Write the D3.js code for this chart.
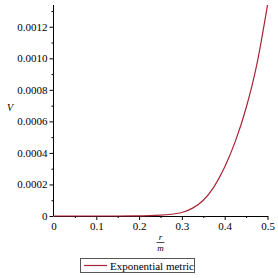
<!DOCTYPE html>
<html>
<head>
<meta charset="utf-8">
<script src="https://cdn.jsdelivr.net/npm/d3@7"></script>
<style>
  body { margin: 0; background: #fff; }
  svg { display: block; font-family: "Liberation Serif", "Times New Roman", serif; }
</style>
</head>
<body>
<div id="plot"></div>
<script>
const FRAME_WIDTH = 278;
const FRAME_HEIGHT = 278;
const MARGINS = {left: 53.5, right: 10.5, top: 5, bottom: 62};

// r/m values and V
const rm = [0, 0.05, 0.1, 0.15, 0.2, 0.225, 0.25, 0.275, 0.3, 0.325, 0.35, 0.375, 0.4, 0.425, 0.45, 0.475, 0.5];
const V = [0, 0, 0, 0, 0.000001, 0.000002, 0.000005, 0.000011, 0.000022, 0.00005, 0.0001, 0.000185, 0.00031, 0.000475, 0.000685, 0.00096, 0.001338];

const xTicks = [0, 0.1, 0.2, 0.3, 0.4, 0.5];
const yTicks = [0, 0.0002, 0.0004, 0.0006, 0.0008, 0.0010, 0.0012];
const seriesName = "Exponential metric";

const LINE_COLOR = "#a82634";

const VIS_WIDTH = FRAME_WIDTH - MARGINS.left - MARGINS.right;
const VIS_HEIGHT = FRAME_HEIGHT - MARGINS.top - MARGINS.bottom;

const X_SCALE = d3.scaleLinear().domain([0, 0.5]).range([MARGINS.left, MARGINS.left + VIS_WIDTH]);
const Y_SCALE = d3.scaleLinear().domain([0, 0.001338]).range([MARGINS.top + VIS_HEIGHT, MARGINS.top]);

const FRAME = d3.select("#plot")
  .append("svg")
    .attr("width", FRAME_WIDTH)
    .attr("height", FRAME_HEIGHT);

// minor ticks
const yMinor = d3.range(0.0001, 0.00135, 0.0002);
const xMinor = d3.range(0.05, 0.5, 0.1);

FRAME.append("g")
  .attr("transform", "translate(" + MARGINS.left + ",0)")
  .call(d3.axisLeft(Y_SCALE).tickValues(yMinor).tickSize(2).tickFormat(""))
  .call(g => g.select(".domain").remove());

FRAME.append("g")
  .attr("transform", "translate(0," + (MARGINS.top + VIS_HEIGHT) + ")")
  .call(d3.axisBottom(X_SCALE).tickValues(xMinor).tickSize(2).tickFormat(""))
  .call(g => g.select(".domain").remove());

// y axis
const yAxis = FRAME.append("g")
  .attr("transform", "translate(" + MARGINS.left + ",0)")
  .call(d3.axisLeft(Y_SCALE).tickValues(yTicks).tickSize(4).tickSizeOuter(0)
    .tickFormat(d => d === 0 ? "0" : d3.format(".4f")(d)));
yAxis.select(".domain").attr("d", "M0," + Y_SCALE(0) + "V" + MARGINS.top);
yAxis.selectAll("text")
  .attr("font-family", "Liberation Serif").attr("font-size", 11).attr("fill", "#000").attr("x", -6);

// x axis
const xAxis = FRAME.append("g")
  .attr("transform", "translate(0," + (MARGINS.top + VIS_HEIGHT) + ")")
  .call(d3.axisBottom(X_SCALE).tickValues(xTicks).tickSize(4).tickSizeOuter(0)
    .tickFormat(d => d === 0 ? "0" : d3.format(".1f")(d)));
xAxis.selectAll(".tick line").filter(d => d === 0).remove();
xAxis.selectAll("text")
  .attr("font-family", "Liberation Serif").attr("font-size", 11).attr("fill", "#000").attr("y", 6);

// axis labels
FRAME.append("text")
  .attr("x", 10).attr("y", 111)
  .attr("text-anchor", "middle")
  .attr("font-style", "italic").attr("font-size", 10)
  .text("V");

const cx = MARGINS.left + VIS_WIDTH / 2;
FRAME.append("text")
  .attr("x", cx).attr("y", 240)
  .attr("text-anchor", "middle")
  .attr("font-style", "italic").attr("font-size", 9)
  .text("r");
FRAME.append("line")
  .attr("x1", cx - 4).attr("x2", cx + 4)
  .attr("y1", 242.5).attr("y2", 242.5)
  .attr("stroke", "#000").attr("stroke-width", 0.7);
FRAME.append("text")
  .attr("x", cx).attr("y", 251)
  .attr("text-anchor", "middle")
  .attr("font-style", "italic").attr("font-size", 9)
  .text("m");

// curve
const pts = rm.map((d, i) => [d, V[i]]);
FRAME.append("path")
  .datum(pts)
  .attr("fill", "none")
  .attr("stroke", LINE_COLOR)
  .attr("stroke-width", 1.2)
  .attr("d", d3.line()
    .x(d => X_SCALE(d[0]))
    .y(d => Y_SCALE(d[1]))
    .curve(d3.curveMonotoneX));

// legend
const legend = FRAME.append("g");
legend.append("rect")
  .attr("x", 80.5).attr("y", 258.5)
  .attr("width", 114).attr("height", 14)
  .attr("fill", "#fff").attr("stroke", "#555").attr("stroke-width", 1);
legend.append("line")
  .attr("x1", 84).attr("x2", 107)
  .attr("y1", 265.5).attr("y2", 265.5)
  .attr("stroke", LINE_COLOR).attr("stroke-width", 1.2);
legend.append("text")
  .attr("x", 110).attr("y", 269.5)
  .attr("font-size", 11)
  .text(seriesName);
</script>
</body>
</html>
